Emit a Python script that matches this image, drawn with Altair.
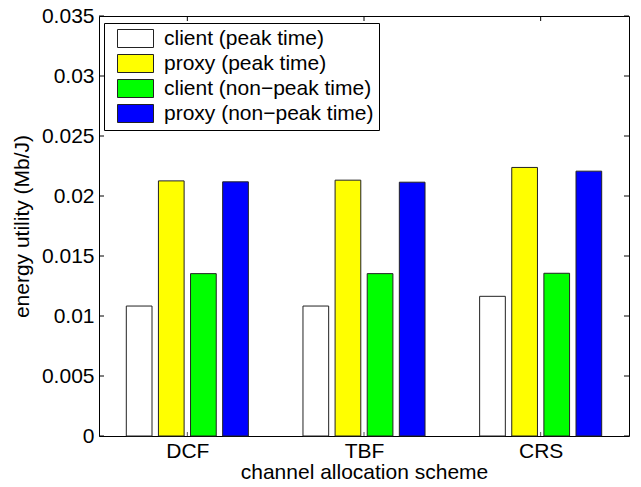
import altair as alt
import pandas as pd

# channel allocation schemes (x groups)
schemes = ["DCF", "TBF", "CRS"]

# series labels, in legend order
series = [
    "client (peak time)",
    "proxy (peak time)",
    "client (non−peak time)",
    "proxy (non−peak time)",
]
series_colors = ["#ffffff", "#ffff00", "#00ff00", "#0000ff"]

# energy utility (Mb/J) per scheme, one list per series
client_peak = [0.01083, 0.01083, 0.01164]
proxy_peak = [0.02126, 0.02132, 0.02238]
client_nonpeak = [0.01353, 0.01353, 0.01356]
proxy_nonpeak = [0.02118, 0.02115, 0.02207]

y_ticks = [0, 0.005, 0.01, 0.015, 0.02, 0.025, 0.03, 0.035]

W, H = 530, 420
FONT = "Liberation Sans"
FS = 21

# grouped-bar geometry in x-axis units (group i sits at x = i + 1)
n_series = len(series)
group_width = min(0.8, n_series / (n_series + 1.5))
bar_width = group_width / n_series * 0.8

rows = []
for s_idx, (name, vals) in enumerate(
    zip(series, [client_peak, proxy_peak, client_nonpeak, proxy_nonpeak])
):
    offset = (s_idx - (n_series - 1) / 2) * group_width / n_series
    for g_idx, v in enumerate(vals):
        center = g_idx + 1 + offset
        rows.append(
            {
                "scheme": schemes[g_idx],
                "series": name,
                "value": v,
                "x0": center - bar_width / 2,
                "x1": center + bar_width / 2,
            }
        )
bars_df = pd.DataFrame(rows)
groups_df = pd.DataFrame({"pos": [1, 2, 3], "scheme": schemes})
yticks_df = pd.DataFrame({"v": y_ticks})

x_scale = alt.Scale(domain=[0.5, 3.5], nice=False, zero=False)
y_scale = alt.Scale(domain=[0, 0.035], nice=False)

label_expr = "datum.value == 1 ? 'DCF' : datum.value == 2 ? 'TBF' : datum.value == 3 ? 'CRS' : ''"

bars = (
    alt.Chart(bars_df)
    .mark_bar(stroke="#222222", strokeWidth=1)
    .encode(
        x=alt.X(
            "x0:Q",
            scale=x_scale,
            axis=alt.Axis(
                values=[1, 2, 3],
                labelExpr=label_expr,
                title="channel allocation scheme",
                grid=False,
                domain=False,
                ticks=False,
                tickSize=0,
                labelPadding=4,
                titlePadding=0,
            ),
        ),
        x2="x1:Q",
        y=alt.Y(
            "value:Q",
            scale=y_scale,
            axis=alt.Axis(
                values=y_ticks,
                format="~g",
                title="energy utility (Mb/J)",
                grid=False,
                domain=False,
                ticks=False,
                tickSize=0,
                labelPadding=5,
                titlePadding=9,
            ),
        ),
        y2=alt.datum(0),
        fill=alt.Fill(
            "series:N",
            scale=alt.Scale(domain=series, range=series_colors),
            sort=series,
            legend=alt.Legend(
                title=None,
                orient="none",
                legendX=5,
                legendY=7,
                direction="vertical",
                # wide swatch: 2*sqrt(size) wide, sqrt(size) tall
                symbolType="M-2,-1H2V1H-2Z",
                symbolSize=324,
                symbolStrokeColor="#222222",
                symbolStrokeWidth=1,
                symbolOpacity=1,
                labelFontSize=FS,
                labelFont=FONT,
                labelColor="black",
                labelLimit=400,
                labelExpr="datum.label + '\u00a0\u00a0\u00a0\u00a0'",
                labelOffset=18,
                symbolOffset=16,
                rowPadding=2,
                padding=5,
                strokeColor="black",
                fillColor="white",
            ),
        ),
    )
)

# inward tick marks on the four sides of the box
left_ticks = alt.Chart(yticks_df).mark_rule(color="black").encode(
    y=alt.Y("v:Q", scale=y_scale), x=alt.value(0), x2=alt.value(5)
)
right_ticks = alt.Chart(yticks_df).mark_rule(color="black").encode(
    y=alt.Y("v:Q", scale=y_scale), x=alt.value(W - 5), x2=alt.value(W)
)
top_ticks = alt.Chart(groups_df).mark_rule(color="black").encode(
    x=alt.X("pos:Q", scale=x_scale), y=alt.value(0), y2=alt.value(5)
)
bottom_ticks = alt.Chart(groups_df).mark_rule(color="#555555").encode(
    x=alt.X("pos:Q", scale=x_scale), y=alt.value(H - 4), y2=alt.value(H)
)

chart = (
    alt.layer(bottom_ticks, bars, left_ticks, right_ticks, top_ticks)
    .properties(
        width=W,
        height=H,
        autosize=alt.AutoSizeParams(type="none"),
        padding={"left": 99, "top": 16, "right": 12, "bottom": 51},
        background="white",
    )
    .configure_view(stroke="black", strokeWidth=1)
    .configure_axis(
        labelFont=FONT,
        labelFontSize=FS,
        labelColor="black",
        titleFont=FONT,
        titleFontSize=FS,
        titleColor="black",
        titleFontWeight="normal",
    )
)

chart.save("out.html", embed_options={"renderer": "svg", "actions": False})
